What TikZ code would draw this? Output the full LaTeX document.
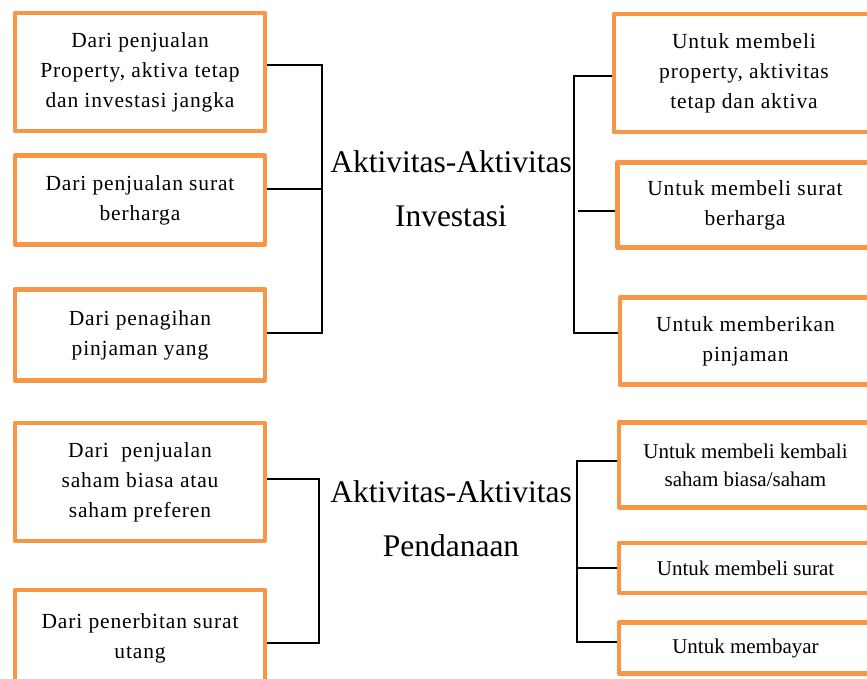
\documentclass[tikz,border=0pt]{standalone}
\usepackage{xcolor}
\usepackage{fontspec}
\setmainfont{Liberation Serif}
\usepackage{tikz}
\definecolor{boxorange}{HTML}{F79646}

\begin{document}
\begin{tikzpicture}[x=1pt, y=-1pt,
  box/.style={draw=boxorange, line width=4.5pt, line join=round, align=center, inner sep=0pt, font=\fontsize{21.5}{30}\selectfont\addfontfeature{LetterSpace=4}},
  smallbox/.style={box, font=\fontsize{21}{28}\selectfont},
  title/.style={align=center, inner sep=0pt, font=\fontsize{31.5}{54}\selectfont},
  link/.style={draw=black, line width=1.5pt}]
  \useasboundingbox (0,0) rectangle (867,679);

  % sumber kas (kiri)
  \node[box, minimum width=250, minimum height=118] (d1) at (140,72) {Dari penjualan\\Property, aktiva tetap\\dan investasi jangka};
  \node[box, minimum width=250, minimum height=89] (d2) at (140,200) {Dari penjualan surat\\berharga};
  \node[box, minimum width=250, minimum height=91] (d3) at (140,335) {Dari penagihan\\pinjaman yang};
  \node[box, minimum width=250, minimum height=118] (d4) at (140,482) {Dari~ penjualan\\saham biasa atau\\saham preferen};
  \node[box, minimum width=250, minimum height=96] (d5) at (140,638) {Dari penerbitan surat\\utang};

  % penggunaan kas (kanan)
  \node[box, minimum width=260, minimum height=118] (u1) at (744,73) {Untuk membeli\\property, aktivitas\\tetap dan aktiva};
  \node[box, minimum width=255, minimum height=85] (u2) at (745,205) {Untuk membeli surat\\berharga};
  \node[box, minimum width=251, minimum height=87] (u3) at (745.5,341) {Untuk memberikan\\pinjaman};
  \node[smallbox, minimum width=253, minimum height=85] (u4) at (745.5,465) {Untuk membeli kembali\\saham biasa/saham};
  \node[smallbox, minimum width=253, minimum height=50] (u5) at (745.5,568) {Untuk membeli surat};
  \node[smallbox, minimum width=253, minimum height=51] (u6) at (745.5,648) {Untuk membayar};

  % judul
  \node[title] (inv) at (451,189) {Aktivitas-Aktivitas\\Investasi};
  \node[title] (pen) at (451,519) {Aktivitas-Aktivitas\\Pendanaan};

  % kurung penghubung
  \coordinate (a1) at (322,65);
  \coordinate (a2) at (322,189);
  \coordinate (a3) at (322,333);
  \coordinate (b1) at (574,76);
  \coordinate (b2) at (578,211);
  \coordinate (b3) at (574,333);
  \coordinate (c1) at (319,479);
  \coordinate (c2) at (319,643);
  \coordinate (e1) at (577,461);
  \coordinate (e2) at (577,568);
  \coordinate (e3) at (577,642);

  \draw[link] (d1.east |- a1) -- (a1) -- (a3) -- (d3.east |- a3);
  \draw[link] (d2.east |- a2) -- (a2);
  \draw[link] (u1.west |- b1) -- (b1) -- (b3) -- (u3.west |- b3);
  \draw[link] (b2) -- (u2.west |- b2);
  \draw[link] (d4.east |- c1) -- (c1) -- (c2) -- (d5.east |- c2);
  \draw[link] (u4.west |- e1) -- (e1) -- (e3) -- (u6.west |- e3);
  \draw[link] (e2) -- (u5.west |- e2);
\end{tikzpicture}
\end{document}
